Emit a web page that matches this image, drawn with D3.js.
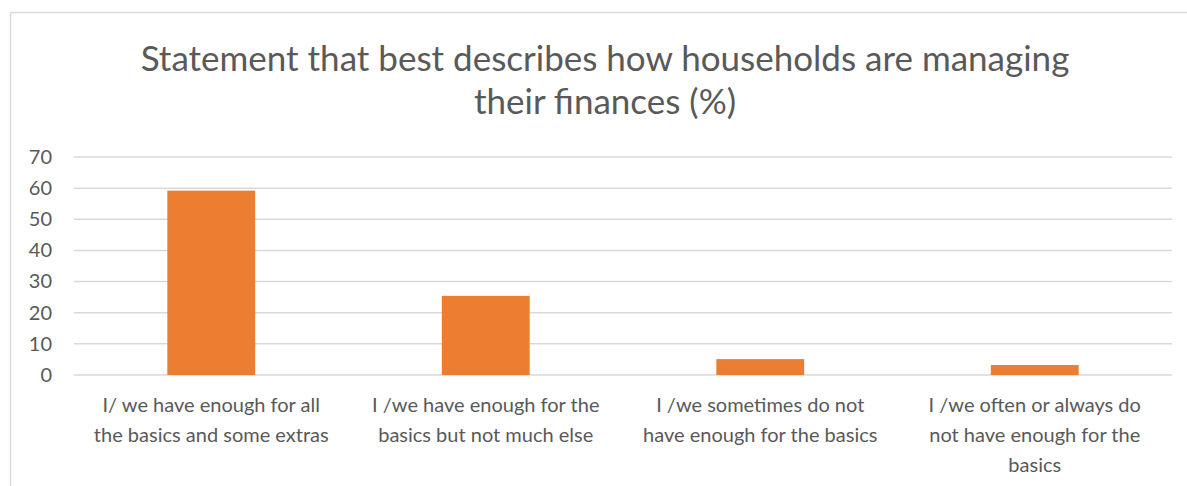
<!DOCTYPE html>
<html>
<head>
<meta charset="utf-8">
<script src="https://cdn.jsdelivr.net/npm/d3@7"></script>
<style>
  body { margin: 0; background: #fff; }
  svg text { font-family: Lato, "Open Sans", sans-serif; fill: #595959; }
</style>
</head>
<body>
<div id="chart"></div>
<script>
// chart data
var titleLines = ["Statement that best describes how households are managing", "their finances (%)"];
var categories = [
  "I/ we have enough for all the basics and some extras",
  "I /we have enough for the basics but not much else",
  "I /we sometimes do not have enough for the basics",
  "I /we often or always do not have enough for the basics"
];
var values = [59.2, 25.4, 5.1, 3.2];
var yTicks = [0, 10, 20, 30, 40, 50, 60, 70];

//Dimensions
var W = 1187, H = 486;
var margin = {top: 157, right: 15, bottom: 111, left: 74};
var width = W - margin.left - margin.right,
    height = H - margin.top - margin.bottom;

var svg = d3.select("#chart").append("svg")
    .attr("width", W).attr("height", H);

//Outer frame (only top and left edges show in the crop)
svg.append("line").attr("x1", 10.5).attr("y1", 12.5).attr("x2", W).attr("y2", 12.5)
    .style("stroke", "#d9d9d9").style("stroke-width", 1.5);
svg.append("line").attr("x1", 10.5).attr("y1", 12.5).attr("x2", 10.5).attr("y2", H)
    .style("stroke", "#d9d9d9").style("stroke-width", 1.5);

//Title
svg.append("text")
    .attr("x", 605).attr("y", 71)
    .attr("text-anchor", "middle")
    .attr("font-size", "35px")
    .selectAll("tspan").data(titleLines).enter().append("tspan")
    .attr("x", 605)
    .attr("dy", function (d, i) { return i === 0 ? 0 : 43; })
    .text(function (d) { return d; });

var g = svg.append("g").attr("transform", "translate(" + margin.left + "," + margin.top + ")");

//Scales
var x = d3.scaleBand().domain(categories).range([0, width])
    .paddingInner(0.68).paddingOuter(0.34);
var y = d3.scaleLinear().domain([0, 70]).range([height, 0]);

//Gridlines
g.selectAll(".grid").data(yTicks).enter().append("line")
    .attr("class", "grid")
    .attr("x1", 0).attr("x2", width)
    .attr("y1", function (d) { return y(d); })
    .attr("y2", function (d) { return y(d); })
    .style("stroke", "#d9d9d9").style("stroke-width", 1.5);

//Y axis
var yAxis = g.append("g")
    .call(d3.axisLeft(y).tickValues(yTicks).tickSize(0).tickPadding(22));
yAxis.select(".domain").remove();
yAxis.selectAll("text")
    .attr("font-size", "20px")
    .style("font-family", "Lato, sans-serif")
    .style("fill", "#595959");

//Bars
g.selectAll(".bar").data(values).enter().append("rect")
    .attr("class", "bar")
    .attr("x", function (d, i) { return x(categories[i]); })
    .attr("width", x.bandwidth())
    .attr("y", function (d) { return y(d); })
    .attr("height", function (d) { return height - y(d); })
    .style("fill", "#ed7d31");

//X axis labels with wrapping
function wrap(sel, maxW) {
  sel.each(function (label) {
    var t = d3.select(this), words = label.split(" "), line = [], lines = [];
    var probe = t.append("tspan");
    words.forEach(function (w) {
      line.push(w);
      probe.text(line.join(" "));
      if (probe.node().getComputedTextLength() > maxW && line.length > 1) {
        line.pop();
        lines.push(line.join(" "));
        line = [w];
      }
    });
    lines.push(line.join(" "));
    probe.remove();
    t.selectAll("tspan").data(lines).enter().append("tspan")
      .attr("x", x(label) + x.bandwidth() / 2)
      .attr("dy", function (d, i) { return i === 0 ? 0 : 30; })
      .text(function (d) { return d; });
  });
}

g.selectAll(".xlab").data(categories).enter().append("text")
    .attr("class", "xlab")
    .attr("text-anchor", "middle")
    .attr("font-size", "20px")
    .attr("y", height + 37)
    .call(wrap, 245);
</script>
</body>
</html>
